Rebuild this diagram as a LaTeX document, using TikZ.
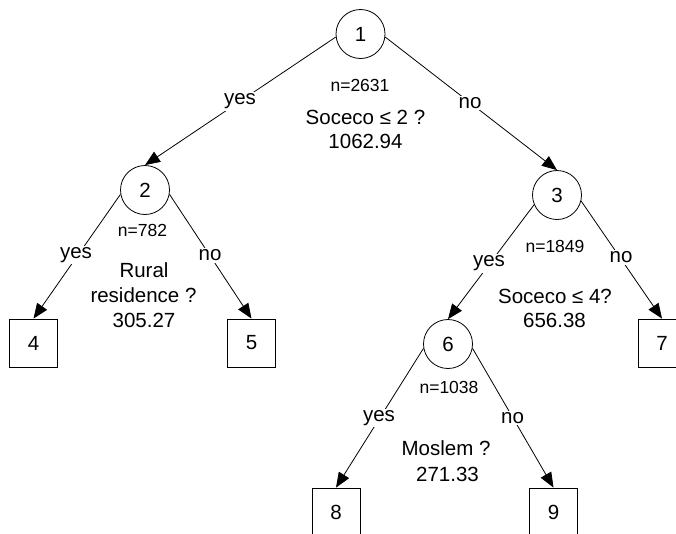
\documentclass[tikz,border=0pt]{standalone}
\usepackage{fontspec}
\setmainfont{Liberation Sans}
\usetikzlibrary{arrows.meta}
\begin{document}
\begin{tikzpicture}[x=1pt,y=-1pt,
  every node/.style={font=\fontsize{20.5}{25}\selectfont, inner sep=0pt},
  split/.style={draw, circle, minimum size=49pt, line width=0.8pt},
  leaf/.style={draw, rectangle, minimum width=48pt, minimum height=48pt, line width=0.8pt},
  branch/.style={line width=0.8pt, -{Triangle[length=15pt,width=12pt]}},
  answer/.style={fill=white, inner sep=1.5pt},
  info/.style={anchor=base},
  count/.style={anchor=base, font=\fontsize{17.5}{21}\selectfont}]
\clip (0,0) rectangle (676,533);

% split nodes
\node[split] (n1) at (360.5,34) {1};
\node[split] (n2) at (145,190) {2};
\node[split] (n3) at (557,195) {3};
\node[split] (n6) at (448,344) {6};

% terminal nodes
\node[leaf] (n4) at (33.5,343) {4};
\node[leaf] (n5) at (251.5,343) {5};
\node[leaf] (n7) at (662,343) {7};
\node[leaf] (n8) at (336,512) {8};
\node[leaf] (n9) at (553.5,512) {9};

% branches
\draw[branch] (n1.187) -- (n2.north);
\draw[branch] (n1.-7) -- (n3.north);
\draw[branch] (n2.190) -- (n4.north);
\draw[branch] (n2.-10) -- (n5.north);
\draw[branch] (n3.203) -- (n6.north);
\draw[branch] (n3.-14) -- (n7.north);
\draw[branch] (n6.190) -- (n8.north);
\draw[branch] (n6.-10) -- (n9.north);

% branch answers
\node[answer] (a12) at (240,101.5) {yes};
\node[answer] (a13) at (470,103) {no};
\node[answer] (a24) at (76,255) {yes};
\node[answer] (a25) at (210,255.5) {no};
\node[answer] (a36) at (489,263.5) {yes};
\node[answer] (a37) at (621,257.5) {no};
\node[answer] (a68) at (379,418) {yes};
\node[answer] (a69) at (512.5,418) {no};

% split descriptions
\node[count] (c1) at (360,91) {n=2631};
\node[info] (q1) at (365.5,124) {Soceco ≤ 2 ?};
\node[info] (d1) at (365.5,148) {1062.94};

\node[count] (c2) at (142.5,236) {n=782};
\node[info] (q2a) at (144,277) {Rural};
\node[info] (q2b) at (143.5,302) {residence ?};
\node[info] (d2) at (144,327) {305.27};

\node[count] (c3) at (555,252) {n=1849};
\node[info] (q3) at (555,303) {Soceco ≤ 4?};
\node[info] (d3) at (554.5,327) {656.38};

\node[count] (c6) at (449,393) {n=1038};
\node[info] (q6) at (446,455) {Moslem ?};
\node[info] (d6) at (447.5,481) {271.33};
\end{tikzpicture}
\end{document}
